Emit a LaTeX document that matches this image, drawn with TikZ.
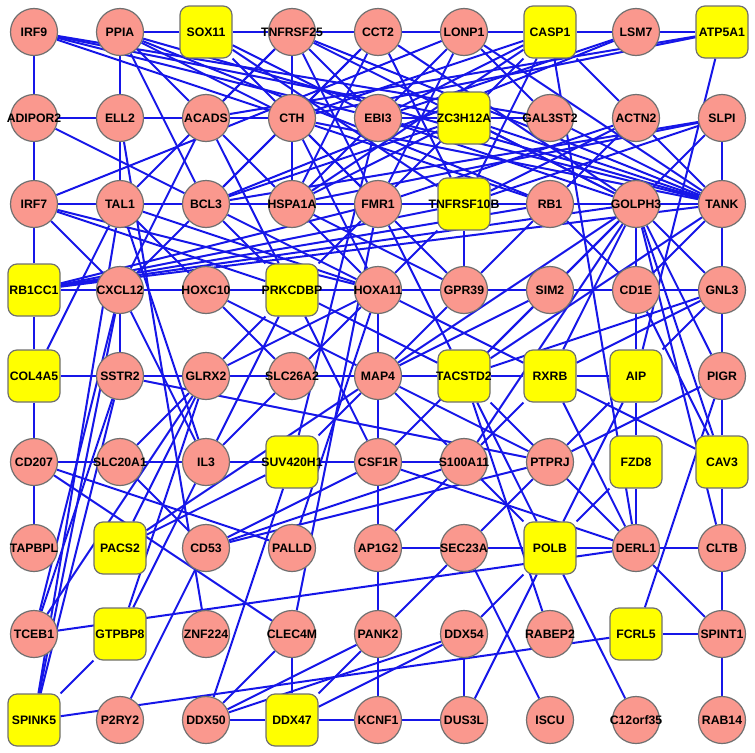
\documentclass[tikz,border=0pt]{standalone}
\usepackage{fontspec}
\setmainfont{Liberation Sans}
\usetikzlibrary{positioning,backgrounds}
\definecolor{genefill}{RGB}{250,152,142}
\definecolor{seedfill}{RGB}{255,255,0}
\definecolor{nodeline}{RGB}{112,112,112}
\definecolor{linkblue}{RGB}{22,22,232}

\begin{document}
\begin{tikzpicture}[on grid,node distance=86bp,
    font=\bfseries\fontsize{12.3}{14}\selectfont,
    gene/.style={circle,draw=nodeline,line width=1.2bp,fill=genefill,
        minimum size=47bp,inner sep=0pt,label=center:#1},
    seed/.style={rectangle,rounded corners=9bp,draw=nodeline,line width=1.2bp,
        fill=seedfill,minimum size=52bp,inner sep=0pt,label=center:#1},
    link/.style={draw=linkblue,line width=2bp}]
    \useasboundingbox (0,0) rectangle (755bp,-753bp);

    % row 0
    \node[gene=IRF9]      (irf9)     at (34bp,-32bp)      {};
    \node[gene=PPIA]      (ppia)     [right=of irf9]      {};
    \node[seed=SOX11]     (sox11)    [right=of ppia]      {};
    \node[gene=TNFRSF25]  (tnfrsf25) [right=of sox11]     {};
    \node[gene=CCT2]      (cct2)     [right=of tnfrsf25]  {};
    \node[gene=LONP1]     (lonp1)    [right=of cct2]      {};
    \node[seed=CASP1]     (casp1)    [right=of lonp1]     {};
    \node[gene=LSM7]      (lsm7)     [right=of casp1]     {};
    \node[seed=ATP5A1]    (atp5a1)   [right=of lsm7]      {};
    % row 1
    \node[gene=ADIPOR2]   (adipor2)  [below=of irf9]      {};
    \node[gene=ELL2]      (ell2)     [right=of adipor2]   {};
    \node[gene=ACADS]     (acads)    [right=of ell2]      {};
    \node[gene=CTH]       (cth)      [right=of acads]     {};
    \node[gene=EBI3]      (ebi3)     [right=of cth]       {};
    \node[seed=ZC3H12A]   (zc3h12a)  [right=of ebi3]      {};
    \node[gene=GAL3ST2]   (gal3st2)  [right=of zc3h12a]   {};
    \node[gene=ACTN2]     (actn2)    [right=of gal3st2]   {};
    \node[gene=SLPI]      (slpi)     [right=of actn2]     {};
    % row 2
    \node[gene=IRF7]      (irf7)     [below=of adipor2]   {};
    \node[gene=TAL1]      (tal1)     [right=of irf7]      {};
    \node[gene=BCL3]      (bcl3)     [right=of tal1]      {};
    \node[gene=HSPA1A]    (hspa1a)   [right=of bcl3]      {};
    \node[gene=FMR1]      (fmr1)     [right=of hspa1a]    {};
    \node[seed=TNFRSF10B] (tnfrsf10b)[right=of fmr1]      {};
    \node[gene=RB1]       (rb1)      [right=of tnfrsf10b] {};
    \node[gene=GOLPH3]    (golph3)   [right=of rb1]       {};
    \node[gene=TANK]      (tank)     [right=of golph3]    {};
    % row 3
    \node[seed=RB1CC1]    (rb1cc1)   [below=of irf7]      {};
    \node[gene=CXCL12]    (cxcl12)   [right=of rb1cc1]    {};
    \node[gene=HOXC10]    (hoxc10)   [right=of cxcl12]    {};
    \node[seed=PRKCDBP]   (prkcdbp)  [right=of hoxc10]    {};
    \node[gene=HOXA11]    (hoxa11)   [right=of prkcdbp]   {};
    \node[gene=GPR39]     (gpr39)    [right=of hoxa11]    {};
    \node[gene=SIM2]      (sim2)     [right=of gpr39]     {};
    \node[gene=CD1E]      (cd1e)     [right=of sim2]      {};
    \node[gene=GNL3]      (gnl3)     [right=of cd1e]      {};
    % row 4
    \node[seed=COL4A5]    (col4a5)   [below=of rb1cc1]    {};
    \node[gene=SSTR2]     (sstr2)    [right=of col4a5]    {};
    \node[gene=GLRX2]     (glrx2)    [right=of sstr2]     {};
    \node[gene=SLC26A2]   (slc26a2)  [right=of glrx2]     {};
    \node[gene=MAP4]      (map4)     [right=of slc26a2]   {};
    \node[seed=TACSTD2]   (tacstd2)  [right=of map4]      {};
    \node[seed=RXRB]      (rxrb)     [right=of tacstd2]   {};
    \node[seed=AIP]       (aip)      [right=of rxrb]      {};
    \node[gene=PIGR]      (pigr)     [right=of aip]       {};
    % row 5
    \node[gene=CD207]     (cd207)    [below=of col4a5]    {};
    \node[gene=SLC20A1]   (slc20a1)  [right=of cd207]     {};
    \node[gene=IL3]       (il3)      [right=of slc20a1]   {};
    \node[seed=SUV420H1]  (suv420h1) [right=of il3]       {};
    \node[gene=CSF1R]     (csf1r)    [right=of suv420h1]  {};
    \node[gene=S100A11]   (s100a11)  [right=of csf1r]     {};
    \node[gene=PTPRJ]     (ptprj)    [right=of s100a11]   {};
    \node[seed=FZD8]      (fzd8)     [right=of ptprj]     {};
    \node[seed=CAV3]      (cav3)     [right=of fzd8]      {};
    % row 6
    \node[gene=TAPBPL]    (tapbpl)   [below=of cd207]     {};
    \node[seed=PACS2]     (pacs2)    [right=of tapbpl]    {};
    \node[gene=CD53]      (cd53)     [right=of pacs2]     {};
    \node[gene=PALLD]     (palld)    [right=of cd53]      {};
    \node[gene=AP1G2]     (ap1g2)    [right=of palld]     {};
    \node[gene=SEC23A]    (sec23a)   [right=of ap1g2]     {};
    \node[seed=POLB]      (polb)     [right=of sec23a]    {};
    \node[gene=DERL1]     (derl1)    [right=of polb]      {};
    \node[gene=CLTB]      (cltb)     [right=of derl1]     {};
    % row 7
    \node[gene=TCEB1]     (tceb1)    [below=of tapbpl]    {};
    \node[seed=GTPBP8]    (gtpbp8)   [right=of tceb1]     {};
    \node[gene=ZNF224]    (znf224)   [right=of gtpbp8]    {};
    \node[gene=CLEC4M]    (clec4m)   [right=of znf224]    {};
    \node[gene=PANK2]     (pank2)    [right=of clec4m]    {};
    \node[gene=DDX54]     (ddx54)    [right=of pank2]     {};
    \node[gene=RABEP2]    (rabep2)   [right=of ddx54]     {};
    \node[seed=FCRL5]     (fcrl5)    [right=of rabep2]    {};
    \node[gene=SPINT1]    (spint1)   [right=of fcrl5]     {};
    % row 8
    \node[seed=SPINK5]    (spink5)   [below=of tceb1]     {};
    \node[gene=P2RY2]     (p2ry2)    [right=of spink5]    {};
    \node[gene=DDX50]     (ddx50)    [right=of p2ry2]     {};
    \node[seed=DDX47]     (ddx47)    [right=of ddx50]     {};
    \node[gene=KCNF1]     (kcnf1)    [right=of ddx47]     {};
    \node[gene=DUS3L]     (dus3l)    [right=of kcnf1]     {};
    \node[gene=ISCU]      (iscu)     [right=of dus3l]     {};
    \node[gene=C12orf35]  (c12orf35) [right=of iscu]      {};
    \node[gene=RAB14]     (rab14)    [right=of c12orf35]  {};

    \begin{pgfonlayer}{background}
    % links between neighbours in the grid
    \foreach \a/\b in {irf9/adipor2,adipor2/irf7,irf7/rb1cc1,rb1cc1/col4a5,col4a5/cd207,cd207/tapbpl,
        adipor2/ell2,ell2/acads,acads/cth,ebi3/zc3h12a,zc3h12a/gal3st2,
        ppia/sox11,sox11/tnfrsf25,tnfrsf25/cct2,cct2/lonp1,lonp1/casp1,casp1/lsm7,lsm7/atp5a1,
        ppia/ell2,ppia/tal1,ell2/tal1,irf7/tal1,tal1/bcl3,bcl3/hspa1a,hspa1a/fmr1,fmr1/tnfrsf10b,
        tnfrsf10b/rb1,rb1/golph3,golph3/tank,tnfrsf25/cth,cth/hspa1a,
        slpi/tank,tank/gnl3,gnl3/pigr,pigr/cav3,cav3/cltb,cltb/spint1,spint1/rab14,
        rb1cc1/cxcl12,cxcl12/hoxc10,hoxc10/prkcdbp,prkcdbp/hoxa11,hoxa11/gpr39,gpr39/sim2,sim2/cd1e,cd1e/gnl3,
        cxcl12/sstr2,col4a5/sstr2,sstr2/glrx2,glrx2/slc26a2,slc26a2/map4,map4/tacstd2,tacstd2/rxrb,rxrb/aip,
        hoxa11/map4,map4/csf1r,csf1r/ap1g2,ap1g2/pank2,pank2/kcnf1,
        cd207/slc20a1,slc20a1/il3,il3/suv420h1,suv420h1/csf1r,csf1r/s100a11,
        cd1e/aip,aip/fzd8,fzd8/derl1,ap1g2/sec23a,sec23a/polb,polb/derl1,derl1/cltb,
        clec4m/ddx47,ddx50/ddx47,ddx47/kcnf1,kcnf1/dus3l,ddx54/dus3l,fcrl5/spint1}
        \draw[link] (\a) -- (\b);
    % long links
    \foreach \a/\b in {irf9/cth,irf9/ebi3,irf9/zc3h12a,irf9/gal3st2,
        ppia/acads,ppia/bcl3,ppia/cth,ppia/rb1,ppia/tank,
        sox11/ebi3,sox11/fmr1,sox11/tnfrsf10b,
        tnfrsf25/acads,tnfrsf25/tal1,tnfrsf25/ebi3,tnfrsf25/fmr1,tnfrsf25/golph3,tnfrsf25/tank,
        cct2/cth,cct2/hspa1a,cct2/bcl3,cct2/tnfrsf10b,cct2/golph3,
        lonp1/ebi3,lonp1/irf7,lonp1/fmr1,lonp1/gal3st2,lonp1/tank,
        casp1/cth,casp1/ebi3,casp1/hspa1a,casp1/fmr1,casp1/tnfrsf10b,casp1/actn2,casp1/derl1,
        lsm7/ebi3,lsm7/bcl3,atp5a1/acads,atp5a1/cth,atp5a1/aip,
        adipor2/bcl3,ell2/znf224,acads/cxcl12,acads/hspa1a,acads/prkcdbp,
        cth/fmr1,cth/hoxa11,cth/rb1,cth/tank,cth/bcl3,
        ebi3/golph3,ebi3/tank,ebi3/suv420h1,ebi3/hspa1a,
        zc3h12a/bcl3,zc3h12a/tank,zc3h12a/golph3,zc3h12a/hspa1a,gal3st2/tank,
        actn2/rb1,actn2/tank,actn2/fmr1,actn2/tnfrsf10b,
        slpi/golph3,slpi/bcl3,slpi/hspa1a,slpi/tnfrsf10b,
        rb1cc1/tnfrsf10b,rb1cc1/rb1,rb1cc1/golph3,rb1cc1/tank,rb1cc1/fmr1,
        irf7/cxcl12,irf7/hoxa11,irf7/prkcdbp,
        tal1/hoxa11,tal1/hoxc10,tal1/il3,tal1/col4a5,tal1/spink5,
        bcl3/cxcl12,bcl3/prkcdbp,bcl3/hoxa11,hspa1a/hoxa11,hspa1a/gpr39,
        fmr1/prkcdbp,fmr1/gpr39,fmr1/tacstd2,tnfrsf10b/hoxa11,tnfrsf10b/gpr39,
        rb1/gpr39,rb1/cd1e,
        golph3/cd1e,golph3/tacstd2,golph3/rxrb,golph3/map4,golph3/s100a11,golph3/csf1r,
        golph3/pigr,golph3/gnl3,golph3/aip,golph3/sim2,golph3/cltb,golph3/cav3,
        tank/cd1e,tank/tacstd2,gnl3/aip,gnl3/rxrb,gnl3/tacstd2,
        cxcl12/spink5,cxcl12/tceb1,cxcl12/il3,sstr2/spink5,sstr2/tceb1,sstr2/ptprj,
        tceb1/glrx2,tceb1/derl1,gtpbp8/spink5,gtpbp8/glrx2,gtpbp8/il3,
        pacs2/suv420h1,pacs2/glrx2,cd207/clec4m,cd207/palld,
        cd53/slc20a1,cd53/ptprj,cd53/p2ry2,cd53/csf1r,cd53/s100a11,
        il3/slc26a2,il3/prkcdbp,glrx2/slc20a1,glrx2/hoxa11,hoxc10/slc26a2,palld/hoxa11,
        clec4m/fmr1,clec4m/ddx50,spink5/fcrl5,
        ddx50/suv420h1,ddx50/pank2,ddx50/ddx54,ddx47/pank2,ddx47/ddx54,
        pank2/sec23a,ddx54/polb,dus3l/polb,ap1g2/s100a11,sec23a/iscu,sec23a/ptprj,
        polb/c12orf35,polb/s100a11,polb/tacstd2,polb/fzd8,polb/aip,
        derl1/spint1,derl1/csf1r,derl1/tacstd2,derl1/rxrb,rabep2/tacstd2,fcrl5/pigr,
        prkcdbp/csf1r,prkcdbp/glrx2,prkcdbp/tacstd2,hoxa11/rxrb,hoxa11/slc26a2,
        map4/ptprj,map4/s100a11,map4/sim2,map4/hoxc10,map4/suv420h1,map4/gpr39,map4/pacs2,
        tacstd2/sim2,rxrb/cav3,rxrb/s100a11,cd1e/cav3,aip/ptprj,pigr/ptprj}
        \draw[link] (\a) -- (\b);
    \end{pgfonlayer}
\end{tikzpicture}
\end{document}
